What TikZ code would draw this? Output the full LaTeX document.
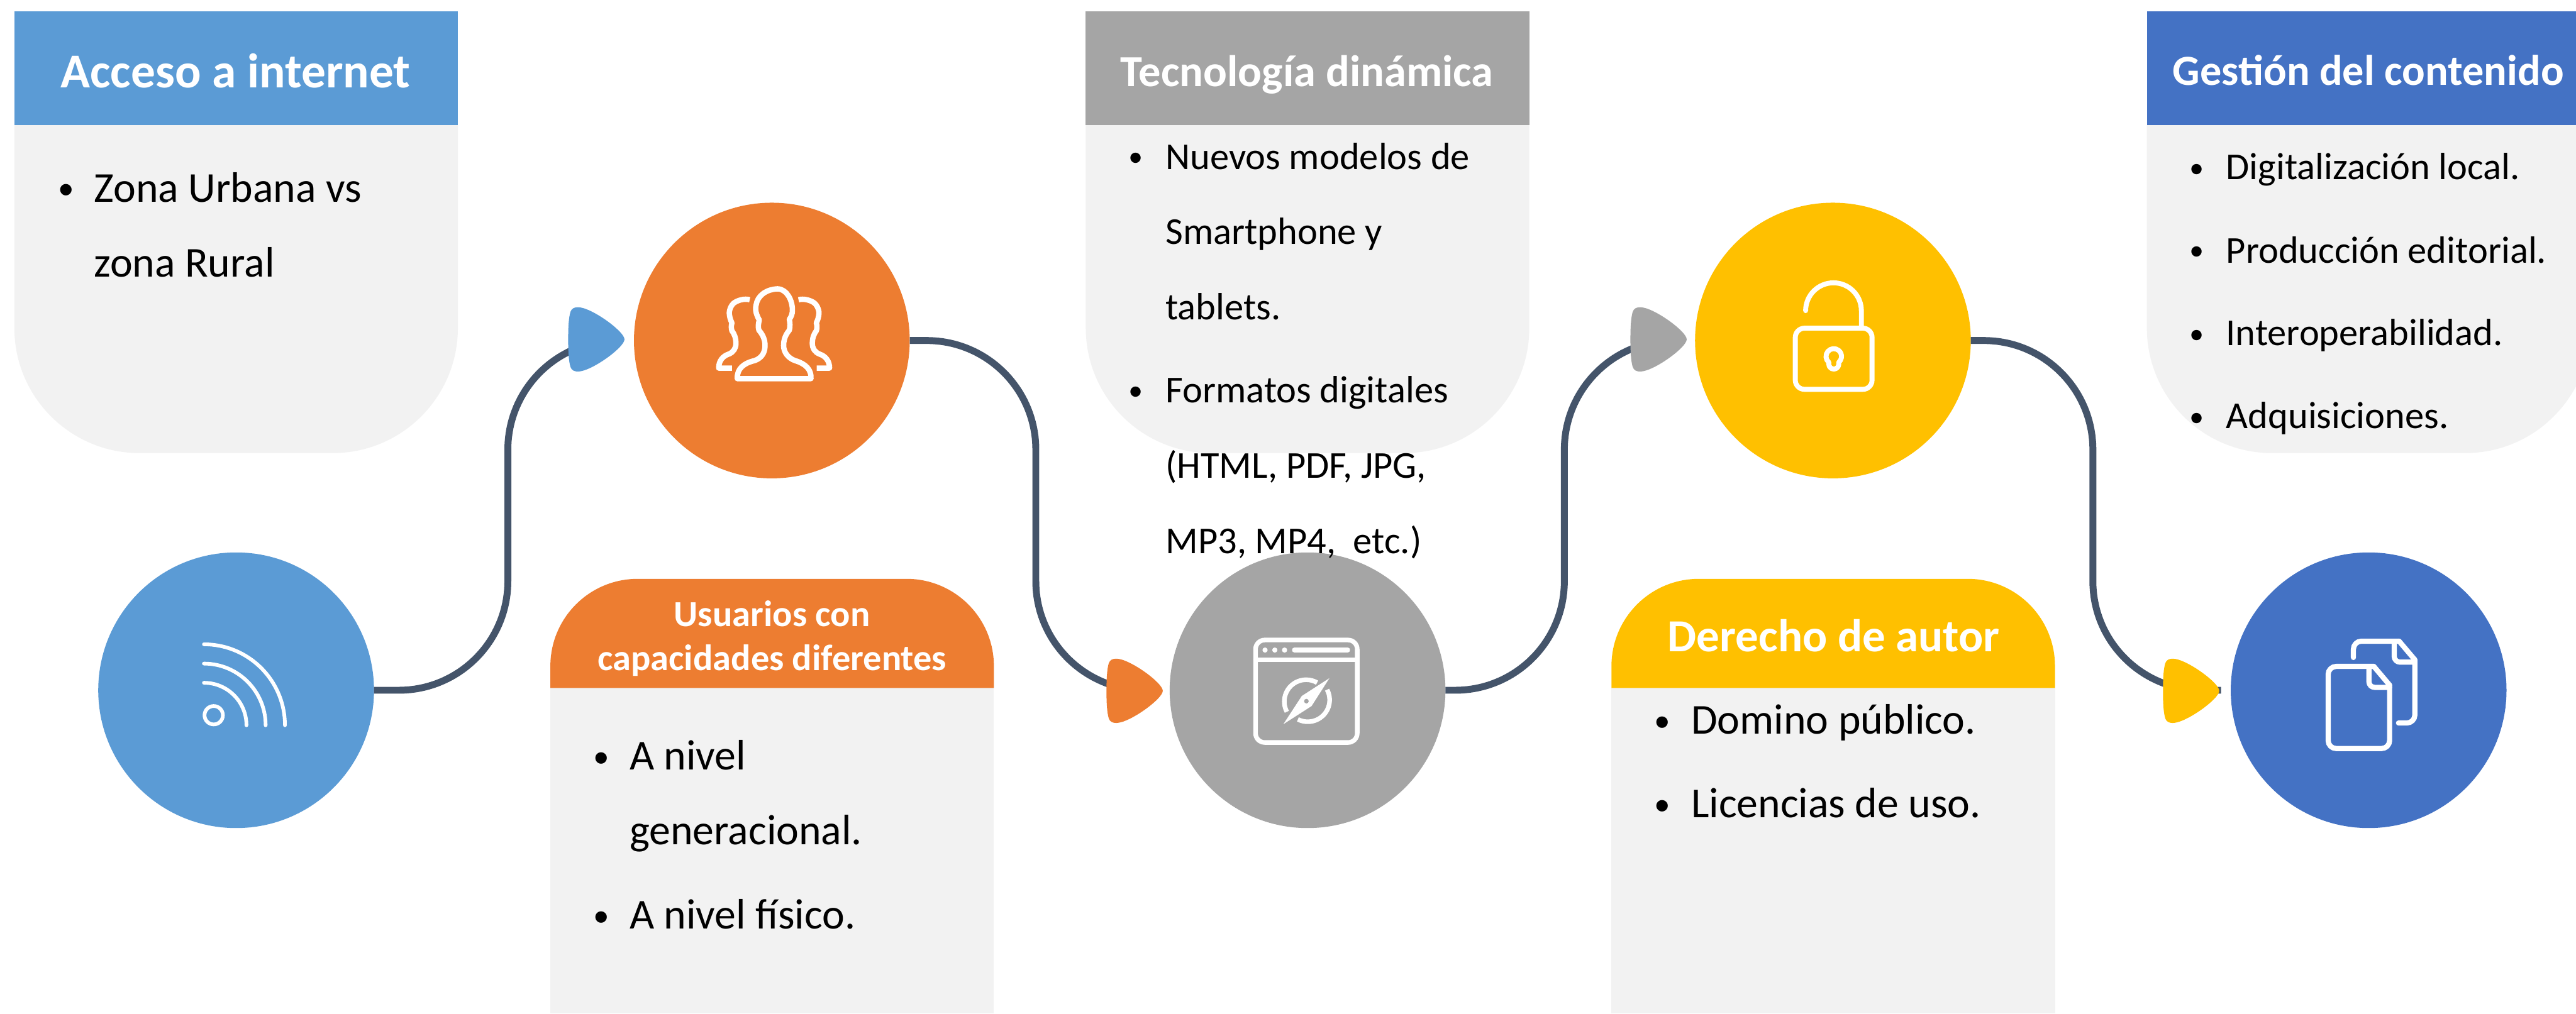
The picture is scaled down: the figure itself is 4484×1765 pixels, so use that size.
\documentclass[tikz,border=0pt]{standalone}
\usepackage{fontspec}
\setmainfont{Carlito}
\newfontfamily\bulfont{Liberation Sans}
\definecolor{cblue}{HTML}{5B9BD5}
\definecolor{corange}{HTML}{ED7D31}
\definecolor{cgray}{HTML}{A5A5A5}
\definecolor{cyellow}{HTML}{FFC000}
\definecolor{cdeep}{HTML}{4472C4}
\definecolor{cpanel}{HTML}{F2F2F2}
\definecolor{cline}{HTML}{44546A}
\tikzset{
  x=0.25pt,y=-0.25pt,
  hub/.style={circle,inner sep=0pt,outer sep=0pt,minimum size=120pt,text width=0pt},
  conn/.style={draw=cline,line width=3pt,rounded corners=47.5pt},
  ico/.style={draw=white,line width=2pt,line cap=round,line join=round},
  headbase/.style={anchor=base,inner sep=0pt,outer sep=0pt,text=white},
  bodyl/.style={anchor=base west,inner sep=0pt,outer sep=0pt,text=black,font=\fontsize{18.55}{22}\selectfont},
  bodys/.style={anchor=base west,inner sep=0pt,outer sep=0pt,text=black,font=\fontsize{16.55}{20}\selectfont},
  bull/.style={anchor=center,inner sep=0pt,outer sep=0pt,yshift=-3.8pt,text=black,font=\bulfont\fontsize{18.375}{22}\selectfont},
  bulls/.style={anchor=center,inner sep=0pt,outer sep=0pt,yshift=-3.3pt,text=black,font=\bulfont\fontsize{16.5}{20}\selectfont},
}
\newcommand{\leaf}[3]{\fill[#1,shift={(#2,#3)}] (0,0) .. controls (0,-22) and (1,-38) .. (4,-48) .. controls (6,-54) and (11,-56) .. (17,-56) .. controls (40,-56) and (98,-14) .. (98,0) .. controls (98,14) and (40,56) .. (17,56) .. controls (11,56) and (6,54) .. (4,48) .. controls (1,38) and (0,22) .. (0,0) -- cycle;}
\begin{document}
\begin{tikzpicture}
\useasboundingbox (0,0) rectangle (4484,1765);
\fill[white] (0,0) rectangle (4484,1765);

% panels
\fill[cpanel] (25,218) [rounded corners=54.5pt] -- (25,789) -- (797,789) [sharp corners] -- (797,218) -- cycle;
\fill[cblue] (25,20) rectangle (797,218);
\fill[cpanel] (958,1198) rectangle (1730,1765);
\fill[corange] (958,1198) [rounded corners=38pt] -- (958,1008) -- (1730,1008) [sharp corners] -- (1730,1198) -- cycle;
\fill[cpanel] (1890,218) [rounded corners=54.5pt] -- (1890,789) -- (2662,789) [sharp corners] -- (2662,218) -- cycle;
\fill[cgray] (1890,20) rectangle (2662,218);
\fill[cpanel] (2805,1198) rectangle (3577,1765);
\fill[cyellow] (2805,1198) [rounded corners=38pt] -- (2805,1008) -- (3577,1008) [sharp corners] -- (3577,1198) -- cycle;
\begin{scope}
\clip (0,0) rectangle (4484,1765);
\fill[cpanel] (3737,218) [rounded corners=54.5pt] -- (3737,789) -- (4509,789) [sharp corners] -- (4509,218) -- cycle;
\fill[cdeep] (3737,20) rectangle (4509,218);
\end{scope}

% hubs
\node[hub,fill=cblue] (c1) at (411,1202) {};
\node[hub,fill=corange] (c2) at (1343.5,593) {};
\node[hub,fill=cgray] (c3) at (2276,1202) {};
\node[hub,fill=cyellow] (c4) at (3190.5,593) {};
\node[hub,fill=cdeep] (c5) at (4123,1202) {};

% connectors
\coordinate (k1a) at (884,1202);
\coordinate (k1b) at (884,593);
\coordinate (e1) at (1074,593);
\coordinate (k2a) at (1803,593);
\coordinate (k2b) at (1803,1202);
\coordinate (e2) at (2000,1202);
\coordinate (k3a) at (2723,1202);
\coordinate (k3b) at (2723,593);
\coordinate (e3) at (2925,593);
\coordinate (k4a) at (3643,593);
\coordinate (k4b) at (3643,1202);
\coordinate (e4) at (3866,1202);
\draw[conn] (c1.east) -- (k1a) -- (k1b) -- (e1);
\draw[conn] (c2.east) -- (k2a) -- (k2b) -- (e2);
\draw[conn] (c3.east) -- (k3a) -- (k3b) -- (e3);
\draw[conn] (c4.east) -- (k4a) -- (k4b) -- (e4);
\leaf{cblue}{989}{591}
\leaf{corange}{1926}{1203}
\leaf{cgray}{2838}{591}
\leaf{cyellow}{3765}{1203}

% wifi icon
\begin{scope}[ico,line width=1.6pt]
\draw (372,1245.5) circle[radius=16];
\draw (355,1189) arc[start angle=270,end angle=360,radius=74];
\draw (355,1155.6) arc[start angle=270,end angle=360,radius=107.4];
\draw (355,1122) arc[start angle=270,end angle=360,radius=141];
\end{scope}

% people icon
\begin{scope}[shift={(1100,400)},scale=0.33333,ico,line width=2.33pt]
\draw (550,778) .. controls (548,725) and (585,697) .. (640,684) .. controls (675,672) and (695,645) .. (695,605) .. controls (695,570) and (680,545) .. (663,525) .. controls (658,510) and (660,490) .. (665,472) .. controls (650,445) and (642,420) .. (648,395) .. controls (655,345) and (700,312) .. (760,309) .. controls (810,310) and (838,370) .. (838,420) .. controls (838,440) and (832,455) .. (822,468) .. controls (825,485) and (827,505) .. (822,525) .. controls (805,545) and (792,570) .. (792,605) .. controls (792,640) and (815,672) .. (855,685) .. controls (905,700) and (938,730) .. (935,778) -- cycle;
\draw[line cap=butt] (615,366) .. controls (590,358) and (550,368) .. (530,385) .. controls (510,405) and (505,435) .. (510,450) .. controls (512,465) and (518,478) .. (522,487) .. controls (518,500) and (518,515) .. (522,528) .. controls (535,545) and (543,565) .. (543,595) .. controls (543,620) and (530,640) .. (505,650) .. controls (475,660) and (453,685) .. (453,723) -- (522,723);
\draw[line cap=butt] (870,366) .. controls (895,358) and (935,368) .. (955,385) .. controls (975,405) and (980,435) .. (975,450) .. controls (973,465) and (967,478) .. (963,487) .. controls (967,500) and (967,515) .. (963,528) .. controls (950,545) and (942,565) .. (942,595) .. controls (942,620) and (955,640) .. (980,650) .. controls (1010,660) and (1032,685) .. (1032,723) -- (965,723);
\end{scope}

% browser icon
\begin{scope}[ico]
\draw[rounded corners=4pt] (2185.5,1114.5) rectangle (2362.5,1293);
\draw (2185.5,1149) -- (2362.5,1149);
\fill[white] (2202,1132) circle[radius=4.5];
\fill[white] (2219,1132) circle[radius=4.5];
\fill[white] (2236,1132) circle[radius=4.5];
\draw (2253,1132) -- (2346,1132);
\fill[white] (2314,1181) -- (2266,1212) -- (2234,1261) -- (2283,1229.5) -- cycle;
\fill[cgray] (2274,1221) circle[radius=4];
\draw[line cap=butt] (2240,1239.5) arc[start angle=152,end angle=300,radius=38];
\draw[line cap=butt] (2310,1201) arc[start angle=332,end angle=477,radius=38];
\end{scope}

% lock icon
\begin{scope}[ico,line width=2.15pt]
\draw[rounded corners=4pt] (3125,571.5) rectangle (3258.6,678);
\draw (3143,541) arc[start angle=180,end angle=360,radius=48.5] -- (3240,571.5);
\draw (3183.3,631) arc[start angle=130,end angle=410,radius=13.5] -- (3200.7,634) arc[start angle=0,end angle=180,radius=8.7] -- cycle;
\end{scope}

% documents icon
\begin{scope}[ico,line width=2.25pt]
\draw[rounded corners=3.5pt] (4132,1160.5) -- (4052.5,1160.5) -- (4052.5,1303.5) -- (4159.5,1303.5) -- (4159.5,1193);
\draw (4132,1160.5) -- (4159.5,1193);
\draw[rounded corners=2.5pt] (4123.5,1162) -- (4123.5,1197) -- (4159.5,1197);
\draw[rounded corners=3.5pt] (4096.5,1145) -- (4096.5,1116.5) -- (4176,1116.5);
\draw (4176,1116.5) -- (4203.5,1149);
\draw[rounded corners=3.5pt] (4203.5,1149) -- (4203.5,1259) -- (4175,1259);
\draw[rounded corners=2.5pt] (4167.5,1118) -- (4167.5,1153) -- (4203.5,1153);
\end{scope}

% headers
\node[headbase,font=\fontsize{21.2}{26}\selectfont\bfseries] (h1) at (410,153) {Acceso a internet};
\node[headbase,font=\fontsize{16}{20}\selectfont\bfseries] (h2a) at (1344,1091) {Usuarios con};
\node[headbase,font=\fontsize{16}{20}\selectfont\bfseries] (h2b) at (1344,1167) {capacidades diferentes};
\node[headbase,font=\fontsize{19.3}{24}\selectfont\bfseries] (h3) at (2275,151) {Tecnología dinámica};
\node[headbase,font=\fontsize{20}{24}\selectfont\bfseries] (h4) at (3192,1135) {Derecho de autor};
\node[headbase,font=\fontsize{18.7}{24}\selectfont\bfseries] (h5) at (4122.5,148) {Gestión del contenido};

% panel 1
\node[bull] (b1a) at (115,323) {•};
\node[bodyl] (t1a) at (164,352) {Zona Urbana vs};
\node[bodyl] (t1b) at (164,482) {zona Rural};
% panel 2
\node[bull] (b2a) at (1046.5,1312) {•};
\node[bodyl] (t2a) at (1096,1340) {A nivel};
\node[bodyl] (t2b) at (1096,1470.5) {generacional.};
\node[bull] (b2b) at (1046.5,1589) {•};
\node[bodyl] (t2c) at (1096,1617) {A nivel f{}ísico.};
% panel 3
\node[bulls] (b3a) at (1977,269) {•};
\node[bodys] (t3a) at (2029,295) {Nuevos modelos de};
\node[bodys] (t3b) at (2029,425) {Smartphone y};
\node[bodys] (t3c) at (2029,557) {tablets.};
\node[bulls] (b3b) at (1977,676) {•};
\node[bodys] (t3d) at (2029,701.5) {Formatos digitales};
\node[bodys] (t3e) at (2029,832) {(HTML, PDF, JPG,};
\node[bodys] (t3f) at (2029,964) {MP3, MP4,\ \ etc.)};
% panel 4
\node[bull] (b4a) at (2893.5,1250) {•};
\node[bodyl] (t4a) at (2944,1278) {Domino público.};
\node[bull] (b4b) at (2893.5,1396) {•};
\node[bodyl] (t4b) at (2944,1424) {Licencias de uso.};
% panel 5
\node[bulls] (b5a) at (3824,288) {•};
\node[bodys] (t5a) at (3875,312) {Digitalización local.};
\node[bulls] (b5b) at (3824,432) {•};
\node[bodys] (t5b) at (3875,458) {Producción editorial.};
\node[bulls] (b5c) at (3824,577) {•};
\node[bodys] (t5c) at (3875,602) {Interoperabilidad.};
\node[bulls] (b5d) at (3824,722) {•};
\node[bodys] (t5d) at (3875,746) {Adquisiciones.};
\end{tikzpicture}
\end{document}
